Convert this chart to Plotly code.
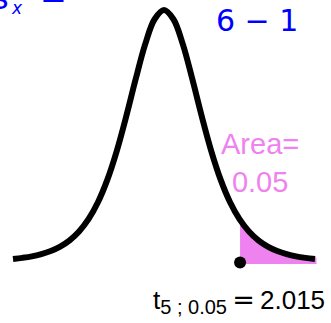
import plotly.graph_objects as go

# t-distribution (df = 5) density
t_vals = [-4.0, -3.75, -3.5, -3.25, -3.0, -2.75, -2.5, -2.25, -2.0, -1.75, -1.5, -1.25, -1.0,
          -0.75, -0.5, -0.25, 0.0, 0.25, 0.5, 0.75, 1.0, 1.25, 1.5, 1.75, 2.0, 2.25, 2.5,
          2.75, 3.0, 3.25, 3.5, 3.75, 4.0]
density = [0.0051, 0.0069, 0.0092, 0.0126, 0.0173, 0.0239, 0.0333, 0.0466, 0.0651, 0.0905,
           0.1245, 0.1679, 0.2197, 0.2757, 0.3279, 0.3657, 0.3796, 0.3657, 0.3279, 0.2757,
           0.2197, 0.1679, 0.1245, 0.0905, 0.0651, 0.0466, 0.0333, 0.0239, 0.0173, 0.0126,
           0.0092, 0.0069, 0.0051]

t_crit = 2.015
t_crit_density = 0.0638
alpha_label = "Area=<br>0.05"
crit_label = ("t<sub><span style='font-size:20px'>5 ; 0.05</span></sub>\u2009"
              "<span style='font-family:DejaVu Sans;font-size:27px'>=</span>\u20092.015")

tail_x = [t_crit] + [x for x in t_vals if x > t_crit]
tail_y = [t_crit_density] + [y for x, y in zip(t_vals, density) if x > t_crit]

W, H = 331, 323
fig = go.Figure()
fig.add_trace(go.Scatter(x=tail_x + [tail_x[-1], tail_x[0]], y=tail_y + [0, 0],
                         mode="lines", fill="toself", fillcolor="violet",
                         line=dict(color="violet", width=3),
                         hoverinfo="skip"))
fig.add_trace(go.Scatter(x=t_vals, y=density, mode="lines",
                         line=dict(color="black", width=6, shape="spline"),
                         hoverinfo="skip"))
fig.add_trace(go.Scatter(x=[t_crit], y=[0], mode="markers",
                         marker=dict(color="black", size=12), hoverinfo="skip"))

px = 37.75
py = 665
x0 = -4 - 13 / px
y1 = 0.3796 + 10 / py
fig.update_xaxes(range=[x0, x0 + W / px], visible=False)
fig.update_yaxes(range=[y1 - H / py, y1], visible=False)

def P(xp, yp):
    return xp / W, 1 - yp / H

ann = []
ax, ay = P(260, 163)
ann.append(dict(x=ax, y=ay, text=alpha_label, font=dict(family="Liberation Sans", size=29, color="violet"),
                xanchor="center", yanchor="middle"))
ax, ay = P(326, 301)
ann.append(dict(x=ax, y=ay, text=crit_label, font=dict(family="Liberation Sans", size=26, color="black"),
                xanchor="right", yanchor="middle"))
ax, ay = P(257, 20)
ann.append(dict(x=ax, y=ay, text="6 − 1", font=dict(family="DejaVu Sans", size=30, color="blue"),
                xanchor="center", yanchor="middle"))
ax, ay = P(10, -2)
ann.append(dict(x=ax, y=ay, text="s", font=dict(family="DejaVu Sans", size=32, color="blue"),
                xanchor="right", yanchor="middle"))
ax, ay = P(17, 8)
ann.append(dict(x=ax, y=ay, text="<i>x</i>", font=dict(family="DejaVu Sans", size=17, color="blue"),
                xanchor="center", yanchor="middle"))
ax, ay = P(53, -3)
ann.append(dict(x=ax, y=ay, text="=", font=dict(family="DejaVu Sans", size=32, color="blue"),
                xanchor="center", yanchor="middle"))
for a in ann:
    a.update(xref="paper", yref="paper", showarrow=False, borderpad=0)

fig.update_layout(width=W, height=H, margin=dict(l=0, r=0, t=0, b=0),
                  paper_bgcolor="white", plot_bgcolor="white", showlegend=False,
                  annotations=ann)
fig.write_html("out.html", config={"displayModeBar": False},
               post_script="document.body.style.margin='0';document.body.style.overflow='hidden';")
